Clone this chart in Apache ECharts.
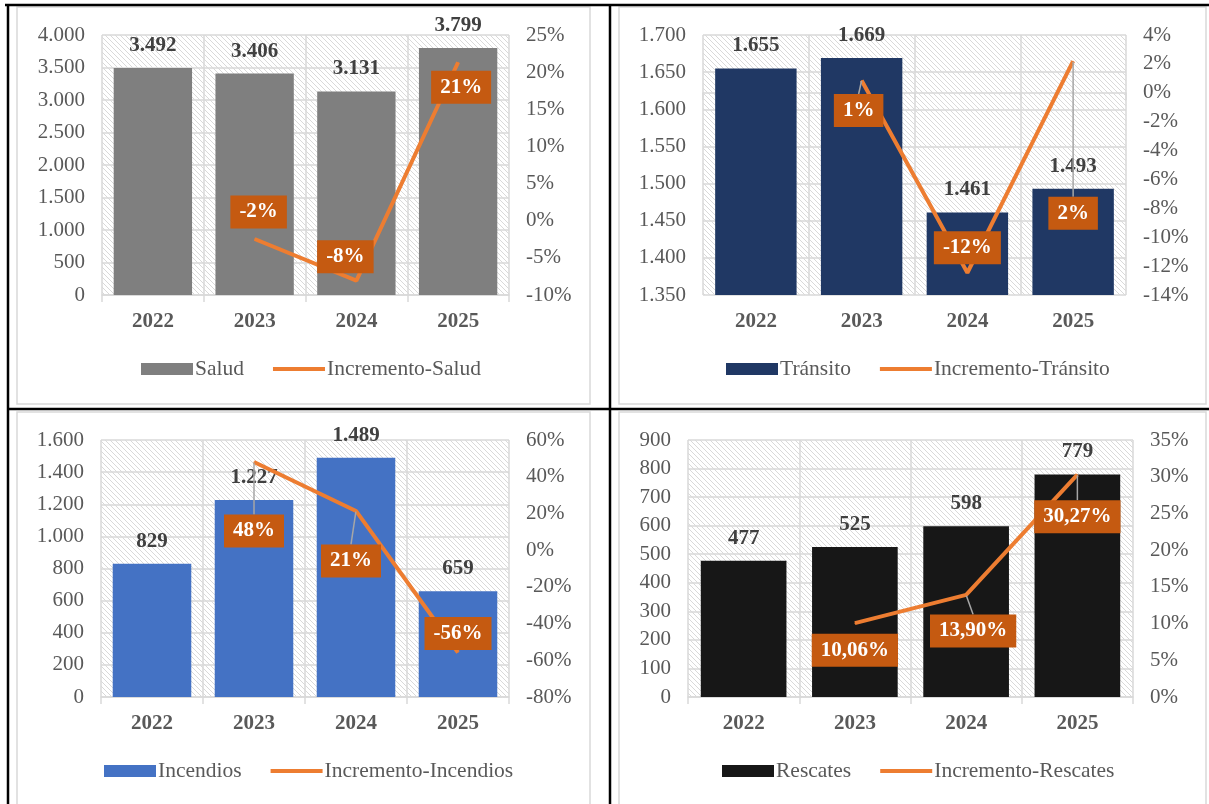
<!DOCTYPE html>
<html><head><meta charset="utf-8">
<script src="https://cdn.jsdelivr.net/npm/echarts@6/dist/echarts.min.js"></script>
<style>html,body{margin:0;padding:0;background:#fff;overflow:hidden}#c{width:1209px;height:804px;}</style>
</head><body><div id="c"></div>
<script>
// ---- data ----
const years = ['2022', '2023', '2024', '2025'];
const saludValues = [3492, 3406, 3131, 3799];
const saludIncrement = [null, -2.46, -8.07, 21.33];
const transitoValues = [1655, 1669, 1461, 1493];
const transitoIncrement = [null, 0.85, -12.46, 2.19];
const incendiosValues = [829, 1227, 1489, 659];
const incendiosIncrement = [null, 48.01, 21.35, -55.74];
const rescatesValues = [477, 525, 598, 779];
const rescatesIncrement = [null, 10.06, 13.90, 30.27];
// axis ticks [min, max, interval]
const saludLeftTicks = [0, 4000, 500], saludRightTicks = [-10, 25, 5];
const transitoLeftTicks = [1350, 1700, 50], transitoRightTicks = [-14, 4, 2];
const incendiosLeftTicks = [0, 1600, 200], incendiosRightTicks = [-80, 60, 20];
const rescatesLeftTicks = [0, 900, 100], rescatesRightTicks = [0, 35, 5];

// ---- style ----
const FF = '"Liberation Serif", "Times New Roman", serif';
const FS = 21;
function thousands(v) { const s = String(Math.round(Math.abs(v))); return (v < 0 ? '-' : '') + s.replace(/\B(?=(\d{3})+(?!\d))/g, '.'); }
function pct(v, d) { return Number(v).toFixed(d).replace('.', ',') + '%'; }

function makeHatch() {
  const s = 5, c = document.createElement('canvas'); c.width = s; c.height = s;
  const g = c.getContext('2d'); g.fillStyle = '#fff'; g.fillRect(0, 0, s, s);
  g.strokeStyle = '#d9d9d9'; g.lineWidth = 1; g.beginPath();
  g.moveTo(-1, -1); g.lineTo(s + 1, s + 1);
  g.moveTo(-1, s - 1); g.lineTo(1, s + 1);
  g.moveTo(s - 1, -1); g.lineTo(s + 1, 1);
  g.stroke();
  return { image: c, repeat: 'repeat' };
}
const hatch = makeHatch();

const panels = [
  { name: 'Salud', inc: 'Incremento-Salud', values: saludValues, increments: saludIncrement, color: '#7F7F7F',
    grid: [102, 35, 407, 260], left: saludLeftTicks, right: saludRightTicks, legend: [136, 353], dec: 0,
    offsets: [[0, 0], [4, -27], [-11, -24], [3, 25]], leaders: [false, false, false, false] },
  { name: 'Tránsito', inc: 'Incremento-Tránsito', values: transitoValues, increments: transitoIncrement, color: '#203864',
    grid: [703, 35, 423, 260], left: transitoLeftTicks, right: transitoRightTicks, legend: [721, 353], dec: 0,
    offsets: [[0, 0], [-3, 30], [0, -25], [0, 152]], leaders: [false, true, false, true] },
  { name: 'Incendios', inc: 'Incremento-Incendios', values: incendiosValues, increments: incendiosIncrement, color: '#4472C4',
    grid: [101, 440, 408, 257], left: incendiosLeftTicks, right: incendiosRightTicks, legend: [99, 755], dec: 0,
    offsets: [[0, 0], [0, 69], [-5, 50], [0, -19]], leaders: [false, true, true, false] },
  { name: 'Rescates', inc: 'Incremento-Rescates', values: rescatesValues, increments: rescatesIncrement, color: '#171717',
    grid: [688, 440, 445, 257], left: rescatesLeftTicks, right: rescatesRightTicks, legend: [717, 755], dec: 2,
    offsets: [[0, 0], [0, 27], [7, 36], [0, 42]], leaders: [false, false, true, true] }
];

const option = {
  animation: false,
  textStyle: { fontFamily: FF },
  grid: [], xAxis: [], yAxis: [], series: [], legend: [],
  graphic: []
};

panels.forEach((p, i) => {
  option.grid.push({ left: p.grid[0], top: p.grid[1], width: p.grid[2], height: p.grid[3], show: true, borderWidth: 0, backgroundColor: hatch });
  option.xAxis.push({
    type: 'category', gridIndex: i, data: years, boundaryGap: true,
    axisLine: { lineStyle: { color: '#d9d9d9', width: 1.5 } },
    axisTick: { show: true, length: 7, lineStyle: { color: '#d9d9d9', width: 1.5 } },
    splitLine: { show: true, lineStyle: { color: '#d9d9d9', width: 1.5 } },
    axisLabel: { fontFamily: FF, fontSize: FS, fontWeight: 'bold', color: '#595959', margin: 16 }
  });
  option.yAxis.push({
    type: 'value', gridIndex: i, position: 'left', min: p.left[0], max: p.left[1], interval: p.left[2],
    axisLine: { show: false }, axisTick: { show: false },
    splitLine: { show: true, lineStyle: { color: '#d9d9d9', width: 1.5 } },
    axisLabel: { fontFamily: FF, fontSize: FS, color: '#595959', margin: 17, formatter: v => thousands(v) }
  });
  option.yAxis.push({
    type: 'value', gridIndex: i, position: 'right', min: p.right[0], max: p.right[1], interval: p.right[2],
    axisLine: { show: false }, axisTick: { show: false }, splitLine: { show: false },
    axisLabel: { fontFamily: FF, fontSize: FS, color: '#595959', margin: 17, formatter: v => Math.round(v) + '%' }
  });
  option.series.push({
    name: p.name, type: 'bar', xAxisIndex: i, yAxisIndex: 2 * i, data: p.values,
    barCategoryGap: '23%', itemStyle: { color: p.color },
    label: { show: true, position: 'top', distance: 12, fontFamily: FF, fontSize: FS, fontWeight: 'bold', color: '#404040',
      formatter: q => thousands(q.value) }
  });
  option.series.push({
    name: p.inc, type: 'line', xAxisIndex: i, yAxisIndex: 2 * i + 1,
    data: p.increments.map((v, j) => v == null ? '-' : { value: v, labelLine: { show: p.leaders[j] } }),
    symbol: 'circle', symbolSize: 1, showSymbol: true,
    itemStyle: { color: '#ED7D31' }, lineStyle: { color: '#ED7D31', width: 4 }, z: 5,
    label: { show: true, position: 'inside', fontFamily: FF, fontSize: FS, fontWeight: 'bold', color: '#fff',
      backgroundColor: '#C55A11', padding: [6, 9], lineHeight: 21,
      formatter: q => pct(q.value, p.dec) },
    labelLine: { show: true, lineStyle: { color: '#A6A6A6', width: 1.5 } },
    labelLayout: q => { const o = p.offsets[q.dataIndex] || [0, 0]; return { dx: o[0], dy: o[1] }; }
  });
  option.legend.push({
    left: p.legend[0], top: p.legend[1], itemWidth: 52, itemHeight: 12, itemGap: 29,
    textStyle: { fontFamily: FF, fontSize: 21.5, color: '#595959', padding: [0, 0, 0, -3] },
    data: [{ name: p.name, icon: 'rect' }, { name: p.inc, icon: 'path://M0,0 L54,0 L54,4 L0,4 Z' }],
    selectedMode: false
  });
});

// table borders and chart frames
const frames = [[17, 7, 573, 397], [619, 7, 587, 397], [17, 412, 573, 400], [619, 412, 587, 400]];
frames.forEach(f => option.graphic.push({ type: 'rect', silent: true, z: -10,
  shape: { x: f[0], y: f[1], width: f[2], height: f[3] }, style: { fill: 'none', stroke: '#d9d9d9', lineWidth: 1.5 } }));
const blackLines = [[5, 5, 1209, 5], [8, 5, 8, 804], [610, 5, 610, 804], [8, 409, 1209, 409]];
blackLines.forEach(l => option.graphic.push({ type: 'line', silent: true, z: 10,
  shape: { x1: l[0], y1: l[1], x2: l[2], y2: l[3] }, style: { stroke: '#000', lineWidth: 2.5 } }));

const chart = echarts.init(document.getElementById('c'), null, { renderer: 'canvas' });
chart.setOption(option);
</script>
</body></html>
